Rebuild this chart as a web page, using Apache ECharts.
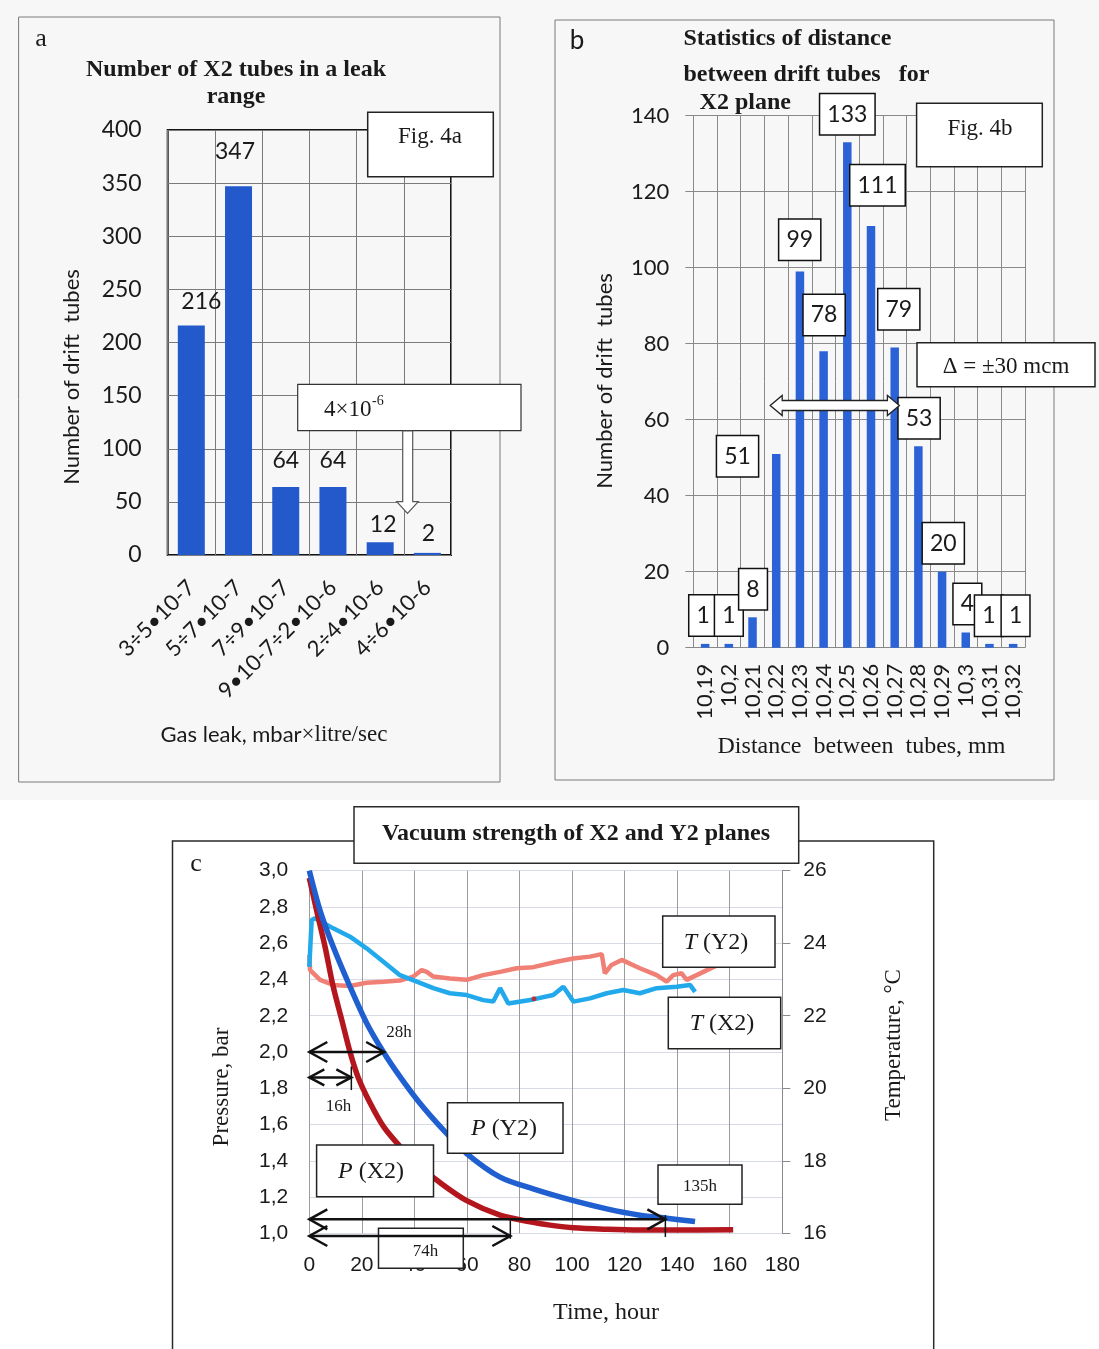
<!DOCTYPE html>
<html><head><meta charset="utf-8">
<script src="https://cdn.jsdelivr.net/npm/echarts@6/dist/echarts.min.js"></script>
<style>html,body{margin:0;padding:0;background:#fff}#c{width:1099px;height:1349px}</style>
</head><body><div id="c"></div><script>
// ---------- DATA ----------
const catsA = ['3÷5•10-7', '5÷7•10-7', '7÷9•10-7', '9•10-7÷2•10-6', '2÷4•10-6', '4÷6•10-6'];
const valsA = [216, 347, 64, 64, 12, 2];
const ticksA = [0, 400, 50];

const catsB = ['10,19', '10,2', '10,21', '10,22', '10,23', '10,24', '10,25', '10,26', '10,27', '10,28', '10,29', '10,3', '10,31', '10,32'];
const valsB = [1, 1, 8, 51, 99, 78, 133, 111, 79, 53, 20, 4, 1, 1];
const ticksB = [0, 140, 20];

// time (hour), pressure (bar)
const pX2 = [[0,2.96],[2.8,2.78],[6,2.58],[9.1,2.36],[12.3,2.18],[15.5,2.0],[18.6,1.86],[23.1,1.72],[28.2,1.59],[34.5,1.48],[42.1,1.37],[49.7,1.28],[59.9,1.18],[72.6,1.10],[85.2,1.06],[91.6,1.045],[100.5,1.03],[113.2,1.022],[125.8,1.018],[138.5,1.018],[161.3,1.02]];
const pY2 = [[0,3.0],[4.1,2.78],[9.1,2.58],[15.5,2.36],[21.8,2.16],[28.2,2.0],[34.5,1.864],[42.1,1.717],[51,1.57],[59.9,1.44],[72.6,1.31],[85.2,1.245],[100.5,1.18],[113.2,1.135],[125.8,1.10],[136,1.083],[146.8,1.065]];
// time (hour), temperature (°C)
const tX2 = [[0,23.35],[0.9,24.64],[2.2,24.69],[9.1,24.41],[15.5,24.18],[21.8,23.86],[28.2,23.49],[34.5,23.12],[40.9,22.94],[47.2,22.76],[53.5,22.62],[59.9,22.57],[66.2,22.43],[70,22.39],[72.6,22.76],[75.7,22.34],[85.2,22.45],[92.8,22.57],[96.7,22.8],[100.5,22.39],[106.8,22.48],[113.2,22.62],[119.5,22.71],[125.8,22.62],[132.2,22.76],[139.8,22.8],[144.9,22.85],[146.8,22.66]];
const tY2 = [[0,23.68],[0.3,23.26],[4.1,22.99],[9.1,22.85],[15.5,22.82],[21.8,22.91],[28.2,22.94],[34.5,22.97],[39.6,23.08],[42.8,23.26],[44.7,23.21],[47.2,23.08],[53.5,23.03],[59.9,22.99],[66.2,23.12],[72.6,23.21],[78.9,23.31],[85.2,23.34],[94.1,23.49],[100.5,23.58],[106.8,23.63],[111.3,23.7],[112.5,23.17],[115,23.4],[118.9,23.54],[125.8,23.31],[132.2,23.12],[136,22.94],[138.5,23.12],[141.7,23.17],[143.6,22.99],[147.4,23.12],[153.7,23.34],[155,23.38]];
const redDot = [[85.5, 22.47]];
const ticksTime = [0, 180, 20];
const ticksP = [1, 3, 0.2];
const ticksT = [16, 26, 2];
// time-span arrows: pressure level, start hour, end hour, end-bar range
const spanArrows = [
  {p: 2.0, t0: 0, t1: 28.5, bar: null, small: false},
  {p: 1.86, t0: 0, t1: 16, bar: [1.92, 1.79], small: true},
  {p: 1.077, t0: 0, t1: 135.5, bar: [1.10, 0.98], small: false},
  {p: 0.985, t0: 0, t1: 76.5, bar: [1.07, 0.97], small: false}
];

// ---------- LAYOUT / STYLE ----------
const offA = [[10,-5],[-3.5,-15.6],[0,-7],[0,-7],[3,1],[1,0]];
const offB = [[-2,-8.4],[0,-8.4],[0.5,-8],[-38.7,22.4],[-0.2,-11.8],[0.5,-16.3],[0,-8.1],[6.5,-20.6],[4.1,-18.2],[0.7,-8],[1.2,-8.4],[1.6,-8.5],[-0.6,-8.2],[2.4,-8.2]];

const SANS = 'Lato, "Open Sans", "DejaVu Sans", sans-serif';
const SERIF = '"Liberation Serif", "DejaVu Serif", serif';
const CSANS = '"Liberation Sans", Arial, sans-serif';
const INK = '#1a1a1a';

const chart = echarts.init(document.getElementById('c'), null, {renderer: 'canvas'});

const fmtComma = v => v.toFixed(1).replace('.', ',');

chart.setOption({
  animation: false,
  backgroundColor: '#ffffff',
  grid: [
    {left: 167.7, top: 130, width: 283.3, height: 425, show: true, borderColor: '#141414', borderWidth: 2, backgroundColor: 'transparent'},
    {left: 693.3, top: 115.7, width: 331.7, height: 532, show: false},
    {left: 309.3, top: 870.7, width: 473, height: 362.6, show: false}
  ],
  xAxis: [
    {gridIndex: 0, type: 'category', data: catsA, axisLine: {show: false}, axisTick: {show: false},
     axisLabel: {rotate: 45, margin: 29, interval: 0, fontFamily: SANS, fontSize: 22, color: INK},
     splitLine: {show: true, interval: 0, lineStyle: {color: '#7a7a7a', width: 1}}},
    {gridIndex: 1, type: 'category', data: catsB, axisLine: {show: false}, axisTick: {show: false},
     axisLabel: {rotate: 90, margin: 16, interval: 0, fontFamily: SANS, fontSize: 22, color: INK},
     splitLine: {show: true, interval: 0, lineStyle: {color: '#8a8a8a', width: 1}}},
    {gridIndex: 2, type: 'value', min: ticksTime[0], max: ticksTime[1], interval: ticksTime[2],
     axisLine: {show: false}, axisTick: {show: false},
     axisLabel: {margin: 21, fontFamily: CSANS, fontSize: 21, color: INK},
     splitLine: {show: true, lineStyle: {color: '#9c9c9c', width: 1}}}
  ],
  yAxis: [
    {gridIndex: 0, type: 'value', min: ticksA[0], max: ticksA[1], interval: ticksA[2],
     axisLine: {show: false}, axisTick: {show: false},
     axisLabel: {margin: 26, fontFamily: SANS, fontSize: 23, color: INK},
     splitLine: {show: true, lineStyle: {color: '#7a7a7a', width: 1}}},
    {gridIndex: 1, type: 'value', min: ticksB[0], max: ticksB[1], interval: ticksB[2],
     axisLine: {show: true, lineStyle: {color: '#8a8a8a'}}, axisTick: {show: true, length: 8, lineStyle: {color: '#8a8a8a'}},
     axisLabel: {margin: 24, fontFamily: SANS, fontSize: 22, color: INK},
     splitLine: {show: true, lineStyle: {color: '#8a8a8a', width: 1}}},
    {gridIndex: 2, type: 'value', position: 'left', min: ticksP[0], max: ticksP[1], interval: ticksP[2],
     axisLine: {show: false}, axisTick: {show: false},
     axisLabel: {margin: 21, fontFamily: CSANS, fontSize: 21, color: INK, formatter: fmtComma},
     splitLine: {show: true, lineStyle: {color: '#d6dbe6', width: 1}}},
    {gridIndex: 2, type: 'value', position: 'right', min: ticksT[0], max: ticksT[1], interval: ticksT[2],
     axisLine: {show: true, lineStyle: {color: '#8a8a8a'}}, axisTick: {show: true, inside: false, length: 8, lineStyle: {color: '#8a8a8a'}},
     axisLabel: {margin: 21, fontFamily: CSANS, fontSize: 21, color: INK},
     splitLine: {show: false}}
  ],
  series: [
    {type: 'bar', xAxisIndex: 0, yAxisIndex: 0, barWidth: 27,
     itemStyle: {color: '#2459cc'},
     label: {show: true, position: 'top', distance: 5, fontFamily: SANS, fontSize: 23, lineHeight: 28, color: INK},
     data: valsA.map((v, i) => ({value: v, label: {offset: offA[i]}}))},
    {type: 'bar', xAxisIndex: 1, yAxisIndex: 1, barWidth: 8.5,
     itemStyle: {color: '#2b62d6'},
     label: {show: true, position: 'top', distance: 0, fontFamily: SANS, fontSize: 23, lineHeight: 26, color: INK,
             backgroundColor: '#ffffff', borderColor: '#111', borderWidth: 1.5, padding: [7, 7]},
     data: valsB.map((v, i) => ({value: v, label: {offset: offB[i]}}))},
    {type: 'line', name: 'T (Y2)', xAxisIndex: 2, yAxisIndex: 3, data: tY2, showSymbol: false, symbol: 'none',
     lineStyle: {color: '#f08076', width: 4.5}, z: 3},
    {type: 'line', name: 'T (X2)', xAxisIndex: 2, yAxisIndex: 3, data: tX2, showSymbol: false, symbol: 'none',
     lineStyle: {color: '#22a9ec', width: 4.5}, z: 3},
    {type: 'scatter', xAxisIndex: 2, yAxisIndex: 3, data: redDot, symbolSize: 5, itemStyle: {color: '#d01818'}, z: 4},
    {type: 'line', name: 'P (X2)', xAxisIndex: 2, yAxisIndex: 2, data: pX2, showSymbol: false, symbol: 'none',
     smooth: 0.3,
     lineStyle: {color: '#b3161d', width: 5.5}, z: 5},
    {type: 'line', name: 'P (Y2)', xAxisIndex: 2, yAxisIndex: 2, data: pY2, showSymbol: false, symbol: 'none',
     smooth: 0.3,
     lineStyle: {color: '#1f5fd0', width: 5.5}, z: 5}
  ]
});

// ---------- ANNOTATIONS ----------
function txt(x, y, text, font, o) {
  o = o || {};
  const st = {text: text, font: font, fill: o.fill || INK,
    align: o.align || 'center', verticalAlign: o.va || 'middle',
    textAlign: o.align || 'center', textVerticalAlign: o.va || 'middle'};
  if (o.rich) st.rich = o.rich;
  return {type: 'text', x: x, y: y, rotation: o.rot || 0, z: 102, silent: true, style: st};
}
function box(x, y, w, h, o) {
  o = o || {};
  return {type: 'rect', z: o.z || 100, silent: true, shape: {x: x, y: y, width: w, height: h},
    style: {fill: o.fill === undefined ? '#ffffff' : o.fill, stroke: o.stroke || '#222', lineWidth: o.lw || 1.5}};
}
function pline(pts, lw, color, z) {
  return {type: 'polyline', z: z || 103, silent: true, shape: {points: pts}, style: {stroke: color || '#111', lineWidth: lw || 2.5, fill: 'none'}};
}

const g = [];
// page tint & panel frames
g.push({type: 'rect', z: -100, silent: true, shape: {x: 0, y: 0, width: 1099, height: 800}, style: {fill: '#f7f7f7'}});
g.push(box(18.6, 17, 481.4, 765, {fill: 'none', stroke: '#7a7a7a', lw: 1, z: 1}));
g.push(box(555, 20, 499, 760, {fill: 'none', stroke: '#7a7a7a', lw: 1, z: 1}));
g.push(box(172.5, 841, 761.2, 530, {fill: 'none', stroke: '#2a2a2a', lw: 1.5, z: 1}));

// ---- panel a ----
g.push(txt(41, 39, 'a', '26px ' + SERIF));
g.push(txt(236, 70, 'Number of X2 tubes in a leak', 'bold 24px ' + SERIF));
g.push(txt(236, 97, 'range', 'bold 24px ' + SERIF));
g.push(box(367.7, 112.3, 125.6, 64.4));
g.push(txt(430, 137, 'Fig. 4a', '23px ' + SERIF));
g.push(box(297.7, 384.3, 223.3, 46.4, {stroke: '#333', lw: 1.2}));
g.push(txt(324, 410, '4×10', '23px ' + SERIF, {align: 'left'}));
g.push(txt(372, 401, '-6', '14px ' + SERIF, {align: 'left'}));
g.push({type: 'polygon', z: 101, silent: true,
  shape: {points: [[402.7,431],[412.7,431],[412.7,501.7],[418.3,501.7],[407.5,513.3],[396.7,501.7],[402.7,501.7]]},
  style: {fill: '#ffffff', stroke: '#555', lineWidth: 1.2}});
g.push(txt(72, 377, 'Number of drift  tubes', '22px ' + SANS, {rot: Math.PI / 2}));
g.push(txt(274, 735, '{s|Gas leak, mbar}{r|×litre/sec}', '22px ' + SANS,
  {rich: {s: {font: '22px ' + SANS, fill: INK}, r: {font: '23px ' + SERIF, fill: INK}}}));

// ---- panel b ----
g.push(txt(577, 41, 'b', '26px ' + SANS));
g.push(txt(683.4, 39, 'Statistics of distance', 'bold 24px ' + SERIF, {align: 'left'}));
g.push(txt(683.4, 75, 'between drift tubes   for', 'bold 24px ' + SERIF, {align: 'left'}));
g.push(txt(699.6, 102.7, 'X2 plane', 'bold 24px ' + SERIF, {align: 'left'}));
g.push(box(916.6, 103.3, 125.7, 63.4));
g.push(txt(980, 128.5, 'Fig. 4b', '23px ' + SERIF));
g.push(box(917, 342.7, 178, 44));
g.push(txt(1006, 366.7, 'Δ = ±30 mcm', '23px ' + SERIF));
g.push({type: 'polygon', z: 101, silent: true,
  shape: {points: [[770.2,405.5],[782.2,395.5],[782.2,400.5],[887.4,400.5],[887.4,395.5],[899.4,405.5],[887.4,415.5],[887.4,410.5],[782.2,410.5],[782.2,415.5]]},
  style: {fill: '#ffffff', stroke: '#222', lineWidth: 1.3}});
g.push(txt(605, 381, 'Number of drift  tubes', '22px ' + SANS, {rot: Math.PI / 2}));
g.push(txt(861.5, 746.7, 'Distance  between  tubes, mm', '24px ' + SERIF));

// ---- panel c ----
g.push(box(354, 806.7, 444.7, 56.6, {stroke: '#2a2a2a'}));
g.push(txt(576, 833.5, 'Vacuum strength of X2 and Y2 planes', 'bold 24px ' + SERIF));
g.push(txt(196, 864, 'c', '26px ' + SERIF));
g.push(txt(222, 1087, 'Pressure, bar', '23px ' + SERIF, {rot: Math.PI / 2}));
g.push(txt(894, 1045, 'Temperature, °C', '23px ' + SERIF, {rot: Math.PI / 2}));
g.push(txt(606, 1313, 'Time, hour', '24px ' + SERIF));

const richLbl = () => ({rich: {i: {font: 'italic 24px ' + SERIF, fill: INK}, r: {font: '24px ' + SERIF, fill: INK}}});
g.push(box(316.6, 1145, 116.9, 51.7));
g.push(txt(371, 1171.5, '{i|P} {r|(X2)}', '24px ' + SERIF, richLbl()));
g.push(box(447.5, 1102.7, 115.5, 50.6));
g.push(txt(504, 1128.3, '{i|P} {r|(Y2)}', '24px ' + SERIF, richLbl()));
g.push(box(662.7, 916, 112.3, 51.3));
g.push(txt(716, 943, '{i|T} {r|(Y2)}', '24px ' + SERIF, richLbl()));
g.push(box(668.3, 997.3, 112.4, 51.4));
g.push(txt(722, 1023.3, '{i|T} {r|(X2)}', '24px ' + SERIF, richLbl()));
g.push(box(658, 1165, 84, 39.3));
g.push(txt(700, 1186.5, '135h', '17px ' + SERIF));
g.push(box(378.5, 1228.3, 84.8, 40));
g.push(txt(425.5, 1251.5, '74h', '17px ' + SERIF));
g.push(txt(399, 1033, '28h', '17px ' + SERIF));
g.push(txt(338.5, 1106.7, '16h', '17px ' + SERIF));

const toPx = (t, p) => chart.convertToPixel({xAxisIndex: 2, yAxisIndex: 2}, [t, p]);
spanArrows.forEach(a => {
  const s = toPx(a.t0, a.p), e = toPx(a.t1, a.p);
  const hl = a.small ? 15 : 18, hh = a.small ? 8 : 10;
  g.push(pline([s, e], 2.5));
  g.push(pline([[s[0] + hl, s[1] - hh], s, [s[0] + hl, s[1] + hh]], 2.5));
  g.push(pline([[e[0] - hl, e[1] - hh], e, [e[0] - hl, e[1] + hh]], 2.5));
  if (a.bar) {
    const b0 = toPx(a.t1, a.bar[0]), b1 = toPx(a.t1, a.bar[1]);
    g.push(pline([b0, b1], 1.5));
  }
});

chart.setOption({graphic: {elements: g}});
</script></body></html>
